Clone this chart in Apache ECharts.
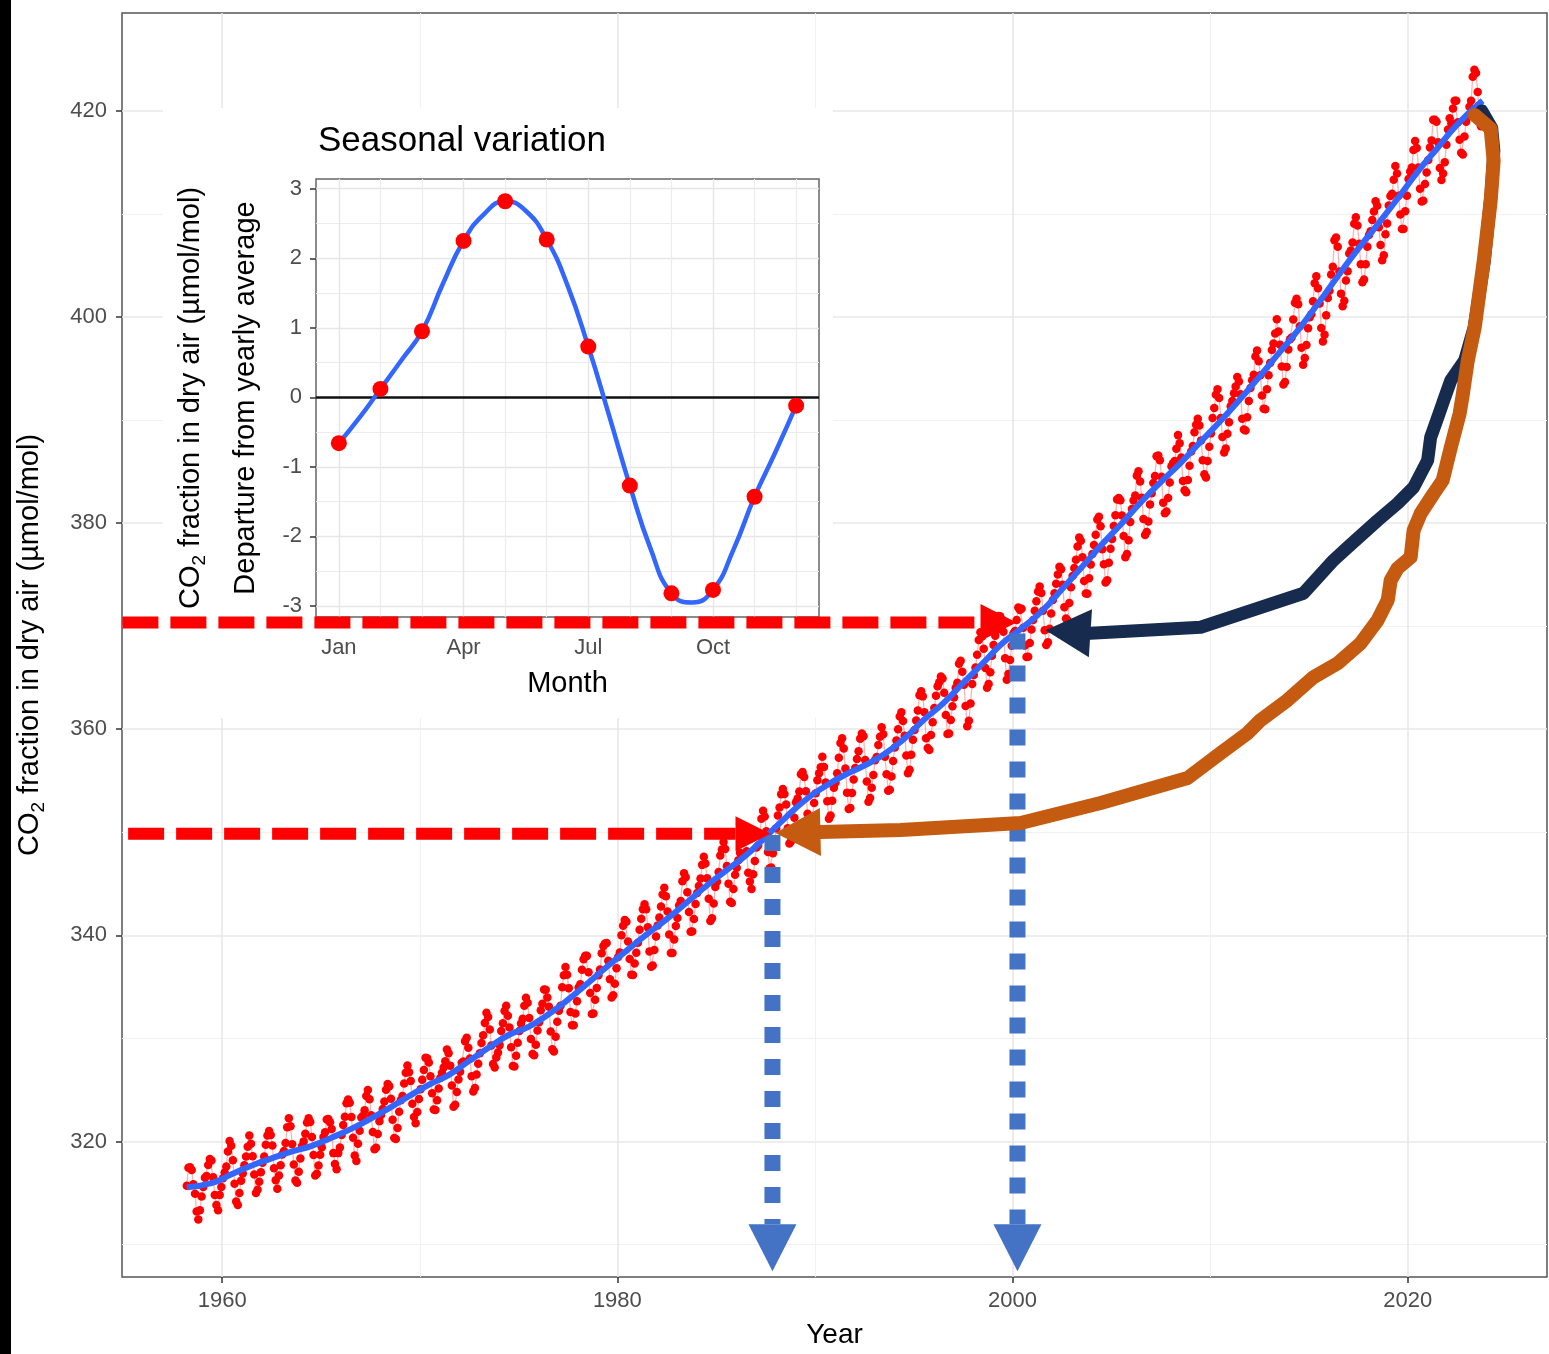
<!DOCTYPE html>
<html><head><meta charset="utf-8">
<script src="https://cdn.jsdelivr.net/npm/echarts@6/dist/echarts.min.js"></script>
<style>html,body{margin:0;padding:0;background:#fff}#c{width:1549px;height:1354px}</style>
</head><body><div id="c"></div>
<script>
// ---------------- DATA ----------------
// Monthly CO2 (µmol/mol), starting March 1958, ending October 2023
const co2StartYear = 1958;
const co2StartMonth = 3;
const co2Monthly = [
/*1958*/ 315.70, 317.45, 317.51, 317.24, 315.86, 314.93, 313.20, 312.43, 313.33, 314.67,
/*1959*/ 315.58, 316.48, 316.65, 317.72, 318.29, 318.15, 316.54, 314.80, 313.84, 313.33, 314.81, 315.58,
/*1960*/ 316.43, 316.98, 317.58, 319.03, 320.04, 319.59, 318.18, 315.90, 314.17, 313.83, 315.00, 316.19,
/*1961*/ 316.89, 317.70, 318.54, 319.48, 320.58, 319.77, 318.57, 316.79, 314.99, 315.31, 316.10, 317.01,
/*1962*/ 317.94, 318.55, 319.68, 320.57, 321.02, 320.62, 319.61, 317.40, 316.25, 315.42, 316.69, 317.70,
/*1963*/ 318.74, 319.07, 319.86, 321.38, 322.25, 321.48, 319.74, 317.77, 316.21, 315.99, 317.07, 318.35,
/*1964*/ 319.57, 320.01, 320.74, 321.84, 322.26, 321.89, 320.44, 318.69, 316.70, 316.87, 317.68, 318.71,
/*1965*/ 319.44, 320.44, 320.89, 322.14, 322.17, 321.87, 321.21, 318.87, 317.81, 317.30, 318.87, 319.42,
/*1966*/ 320.62, 321.60, 322.39, 323.70, 324.08, 323.75, 322.38, 320.36, 318.64, 318.10, 319.78, 321.03,
/*1967*/ 322.33, 322.50, 323.04, 324.42, 325.00, 324.09, 322.54, 320.92, 319.25, 319.39, 320.73, 321.96,
/*1968*/ 322.57, 323.15, 323.89, 325.02, 325.57, 325.36, 324.14, 322.11, 320.33, 320.25, 321.32, 322.89,
/*1969*/ 324.00, 324.42, 325.63, 326.66, 327.38, 326.71, 325.88, 323.66, 322.38, 321.78, 322.86, 324.12,
/*1970*/ 325.06, 325.98, 326.93, 328.13, 328.08, 327.67, 326.34, 324.69, 323.10, 323.06, 324.01, 325.13,
/*1971*/ 326.17, 326.68, 327.17, 327.79, 328.93, 328.57, 327.36, 325.43, 323.36, 323.56, 324.80, 326.01,
/*1972*/ 326.77, 327.63, 327.75, 329.72, 330.07, 329.09, 328.04, 326.32, 324.84, 325.20, 326.50, 327.55,
/*1973*/ 328.55, 329.56, 330.30, 331.50, 332.48, 332.07, 330.87, 329.31, 327.51, 327.18, 328.16, 328.64,
/*1974*/ 329.35, 330.71, 331.48, 332.65, 333.18, 332.20, 331.07, 329.15, 327.33, 327.28, 328.31, 329.58,
/*1975*/ 330.73, 331.46, 331.90, 333.17, 333.94, 333.45, 331.97, 329.95, 328.50, 328.36, 329.38, 330.78,
/*1976*/ 331.56, 332.74, 333.36, 334.74, 334.72, 333.98, 333.08, 330.68, 328.96, 328.72, 330.16, 331.62,
/*1977*/ 332.68, 333.17, 334.96, 336.14, 336.93, 336.17, 334.88, 332.56, 331.29, 331.27, 332.41, 333.60,
/*1978*/ 334.95, 335.25, 336.66, 337.69, 338.03, 338.01, 336.41, 334.41, 332.37, 332.41, 333.75, 334.90,
/*1979*/ 336.14, 336.69, 338.27, 338.96, 339.21, 339.26, 337.54, 335.75, 333.98, 334.19, 335.31, 336.81,
/*1980*/ 337.90, 338.34, 340.01, 340.93, 341.48, 341.33, 339.40, 337.70, 336.19, 336.15, 337.27, 338.32,
/*1981*/ 339.29, 340.55, 341.61, 342.53, 343.03, 342.54, 340.78, 338.44, 336.95, 337.08, 338.58, 339.88,
/*1982*/ 340.96, 341.73, 342.81, 343.97, 344.63, 343.79, 342.32, 340.09, 338.28, 338.29, 339.60, 340.90,
/*1983*/ 341.68, 342.90, 343.33, 345.25, 346.03, 345.63, 344.19, 342.27, 340.35, 340.38, 341.59, 343.05,
/*1984*/ 344.10, 344.79, 345.52, 346.84, 347.63, 346.98, 345.53, 343.55, 341.40, 341.67, 343.10, 344.70,
/*1985*/ 345.21, 346.16, 347.74, 348.34, 349.06, 348.38, 346.72, 345.02, 343.27, 343.13, 344.49, 345.88,
/*1986*/ 346.56, 347.28, 348.01, 349.77, 350.38, 349.93, 348.16, 346.08, 345.22, 344.51, 345.93, 347.22,
/*1987*/ 348.52, 348.73, 349.73, 351.31, 352.09, 351.53, 350.11, 348.08, 346.52, 346.59, 347.96, 349.16,
/*1988*/ 350.39, 351.64, 352.41, 353.69, 354.21, 353.72, 352.69, 350.40, 348.92, 349.13, 350.20, 351.41,
/*1989*/ 352.91, 353.27, 353.96, 355.64, 355.86, 355.37, 353.99, 351.81, 350.05, 350.25, 351.49, 352.85,
/*1990*/ 353.80, 355.04, 355.73, 356.32, 357.32, 356.34, 354.84, 353.01, 351.31, 351.62, 353.07, 354.33,
/*1991*/ 354.84, 355.73, 357.23, 358.66, 359.13, 358.13, 356.19, 353.85, 352.25, 352.35, 353.81, 355.12,
/*1992*/ 356.25, 357.11, 357.86, 359.09, 359.59, 359.33, 357.01, 354.94, 352.96, 353.32, 354.32, 355.57,
/*1993*/ 357.00, 357.31, 358.47, 359.27, 360.19, 359.52, 357.33, 355.64, 354.03, 354.12, 355.41, 356.91,
/*1994*/ 358.24, 358.92, 359.99, 361.23, 361.65, 360.81, 359.38, 357.46, 355.73, 356.07, 357.53, 358.98,
/*1995*/ 359.92, 360.86, 361.83, 363.30, 363.69, 363.19, 361.64, 359.12, 358.17, 357.99, 359.45, 360.68,
/*1996*/ 362.07, 363.24, 364.17, 364.57, 365.13, 364.92, 363.55, 361.38, 359.54, 359.58, 360.89, 362.24,
/*1997*/ 363.09, 364.03, 364.51, 366.35, 366.64, 365.59, 364.31, 362.25, 360.29, 360.82, 362.49, 364.38,
/*1998*/ 365.26, 365.98, 367.24, 368.66, 369.42, 368.99, 367.82, 365.95, 364.02, 364.40, 365.52, 367.13,
/*1999*/ 368.18, 369.07, 369.68, 370.99, 370.96, 370.30, 369.45, 366.90, 364.81, 365.37, 366.72, 368.10,
/*2000*/ 369.29, 369.54, 370.60, 371.82, 371.58, 371.70, 369.86, 368.13, 367.00, 367.03, 368.37, 369.67,
/*2001*/ 370.59, 371.51, 372.43, 373.37, 373.85, 373.21, 371.51, 369.61, 368.18, 368.45, 369.76, 371.24,
/*2002*/ 372.53, 373.20, 374.12, 375.02, 375.76, 375.52, 374.01, 371.85, 370.75, 370.55, 372.25, 373.79,
/*2003*/ 374.88, 375.64, 376.45, 377.73, 378.60, 378.28, 376.70, 374.38, 373.17, 373.15, 374.66, 375.99,
/*2004*/ 377.00, 377.87, 378.88, 380.35, 380.62, 379.69, 377.47, 376.01, 374.25, 374.46, 376.16, 377.51,
/*2005*/ 378.46, 379.73, 380.77, 382.29, 382.45, 382.21, 380.74, 378.74, 376.70, 377.00, 378.35, 380.11,
/*2006*/ 381.38, 382.19, 382.67, 384.61, 385.03, 384.05, 382.46, 380.41, 378.85, 379.13, 380.15, 381.82,
/*2007*/ 382.89, 383.90, 384.58, 386.50, 386.56, 386.10, 384.50, 381.99, 380.96, 381.12, 382.45, 383.95,
/*2008*/ 385.52, 385.82, 386.03, 387.21, 388.54, 387.76, 386.36, 384.09, 383.18, 382.99, 384.19, 385.56,
/*2009*/ 386.94, 387.48, 388.82, 389.55, 390.14, 389.48, 388.03, 386.11, 384.74, 384.43, 386.02, 387.42,
/*2010*/ 388.71, 390.20, 391.17, 392.46, 393.00, 392.15, 390.20, 388.35, 386.85, 387.24, 388.67, 389.79,
/*2011*/ 391.33, 391.86, 392.60, 393.25, 394.19, 393.74, 392.51, 390.13, 389.08, 389.00, 390.28, 391.86,
/*2012*/ 393.12, 393.86, 394.40, 396.18, 396.74, 395.71, 394.36, 392.39, 391.11, 391.05, 392.98, 394.34,
/*2013*/ 395.55, 396.80, 397.43, 398.41, 399.78, 398.60, 397.32, 395.20, 393.45, 393.70, 395.16, 396.84,
/*2014*/ 397.85, 398.01, 399.77, 401.38, 401.78, 401.25, 399.10, 397.03, 395.38, 396.03, 397.28, 398.91,
/*2015*/ 399.98, 400.28, 401.54, 403.28, 403.96, 402.80, 401.31, 398.93, 397.63, 398.29, 400.16, 401.85,
/*2016*/ 402.56, 404.12, 404.87, 407.45, 407.72, 406.83, 404.41, 402.27, 401.05, 401.59, 403.55, 404.45,
/*2017*/ 406.17, 406.46, 407.22, 409.04, 409.69, 408.88, 407.12, 405.13, 403.37, 403.63, 405.12, 406.81,
/*2018*/ 407.96, 408.32, 409.41, 410.24, 411.24, 410.79, 408.71, 406.99, 405.51, 406.00, 408.02, 409.07,
/*2019*/ 410.83, 411.75, 411.97, 413.32, 414.66, 413.92, 411.77, 409.95, 408.54, 408.53, 410.27, 411.76,
/*2020*/ 413.40, 414.11, 414.51, 416.21, 417.07, 416.39, 414.51, 412.45, 411.22, 411.29, 412.90, 414.02,
/*2021*/ 415.24, 416.45, 417.14, 419.13, 419.13, 418.94, 416.96, 414.47, 413.30, 413.93, 415.01, 416.71,
/*2022*/ 418.19, 419.28, 418.81, 420.23, 420.99, 420.99, 418.90, 417.19, 415.95, 415.78, 417.51, 418.95,
/*2023*/ 419.47, 420.41, 420.99, 423.31, 424.00, 423.68, 421.83, 419.68, 418.51, 418.82
];

// Smoothed trend (blue line)
const trendYear = [1958.21, 1959.5, 1960.5, 1961.5, 1962.5, 1963.5, 1964.5, 1965.5, 1966.5, 1967.5, 1968.5, 1969.5,
  1970.5, 1971.5, 1972.5, 1973.5, 1974.5, 1975.5, 1976.5, 1977.5, 1978.5, 1979.5, 1980.5, 1981.5, 1982.5, 1983.5,
  1984.5, 1985.5, 1986.5, 1987.5, 1988.5, 1989.5, 1990.5, 1991.5, 1992.5, 1993.5, 1994.5, 1995.5, 1996.5, 1997.5,
  1998.5, 1999.5, 2000.5, 2001.5, 2002.5, 2003.5, 2004.5, 2005.5, 2006.5, 2007.5, 2008.5, 2009.5, 2010.5, 2011.5,
  2012.5, 2013.5, 2014.5, 2015.5, 2016.5, 2017.5, 2018.5, 2019.5, 2020.5, 2021.5, 2022.5, 2023.79];
const trendCO2 = [315.55, 315.98, 316.84, 317.67, 318.36, 319.02, 319.55, 320.34, 321.20, 322.20, 323.28, 324.45,
  325.54, 326.49, 327.82, 329.11, 330.33, 331.12, 332.33, 333.76, 335.36, 337.00, 338.57, 340.12, 341.58, 343.17,
  344.79, 346.28, 347.76, 349.54, 351.40, 353.11, 354.45, 355.56, 356.48, 357.57, 359.05, 360.89, 362.53, 364.49,
  366.42, 368.36, 369.86, 371.49, 373.58, 375.71, 377.89, 379.92, 382.03, 383.98, 385.83, 387.86, 389.86, 392.00,
  394.22, 396.54, 398.85, 401.41, 404.06, 406.63, 409.04, 411.53, 414.09, 416.38, 418.67, 421.00];

// Inset: seasonal variation
const monthNames = ['Jan','Feb','Mar','Apr','May','Jun','Jul','Aug','Sep','Oct','Nov','Dec'];
const seasonalDeparture = [-0.66, 0.12, 0.95, 2.25, 2.82, 2.27, 0.73, -1.27, -2.82, -2.77, -1.43, -0.12];
const seasonalCurveMonth = [1, 1.5, 2, 2.5, 3, 3.5, 4, 4.5, 5, 5.5, 6, 6.5, 7, 7.5, 8, 8.5, 9, 9.5, 10, 10.5, 11, 11.5, 12];
const seasonalCurveValue = [-0.66, -0.29, 0.12, 0.53, 0.95, 1.63, 2.25, 2.64, 2.82, 2.68, 2.27, 1.61, 0.73, -0.26,
  -1.27, -2.18, -2.82, -2.95, -2.77, -2.18, -1.43, -0.79, -0.12];

// Annotation arrows, in data units [year, ppm]; last point is the arrow tip
const redArrowTo2000 = [[1954.95, 370.37], [2000.2, 370.37]];
const redArrowTo1988 = [[1955.24, 349.85], [1987.75, 349.85]];
const blueArrowAt1988 = [[1987.85, 349.75], [1987.85, 307.4]];
const blueArrowAt2000 = [[2000.25, 369.3], [2000.25, 307.4]];
const navyArrowPath = [[2023.75, 420.00], [2024.25, 418.35], [2024.36, 416.12], [2024.22, 411.96], [2023.88, 405.47],
  [2023.36, 398.97], [2022.88, 395.78], [2022.18, 393.84], [2021.82, 391.90], [2021.52, 390.25], [2021.16, 388.31],
  [2021.01, 386.09], [2020.30, 383.47], [2019.49, 381.92], [2018.48, 380.27], [2016.96, 377.65], [2016.25, 376.40],
  [2014.73, 373.20], [2009.52, 369.90], [2003.95, 369.32], [2001.67, 369.61]];
const orangeArrowPath = [[2023.39, 419.61], [2024.20, 418.26], [2024.35, 415.16], [2024.20, 411.28], [2023.85, 405.47],
  [2023.39, 398.97], [2023.04, 395.78], [2022.78, 392.38], [2022.63, 390.64], [2022.18, 387.34], [2021.77, 384.15],
  [2021.32, 382.89], [2020.66, 380.95], [2020.30, 379.30], [2020.15, 376.69], [2019.49, 375.62], [2019.14, 374.46],
  [2018.99, 372.52], [2018.48, 370.58], [2017.62, 368.35], [2016.46, 366.41], [2015.24, 365.06], [2013.92, 362.83],
  [2012.56, 360.89], [2011.90, 359.63], [2010.53, 357.69], [2008.86, 355.27], [2004.46, 352.85], [2000.41, 350.91],
  [1994.33, 350.23], [1990.28, 350.04], [1988.00, 349.94]];

// ---------------- CHART ----------------
const FONT = '"Liberation Sans", Arial, Helvetica, sans-serif';
const co2Points = co2Monthly.map((v, i) => {
  const m = co2StartMonth - 1 + i;
  return [co2StartYear + Math.floor(m / 12) + ((m % 12) + 0.5) / 12, v];
});
const trendPoints = trendYear.map((y, i) => [y, trendCO2[i]]);
const insetPoints = seasonalDeparture.map((v, i) => [i, v]);          // x = month index (Jan = 0)
const insetCurve = seasonalCurveMonth.map((m, i) => [m - 1, seasonalCurveValue[i]]);

const annotations = [
  {path: blueArrowAt1988, color: '#4472C4', width: 16, dash: [16, 16], headLen: 47, headHalf: 24},
  {path: blueArrowAt2000, color: '#4472C4', width: 16, dash: [16, 16], headLen: 47, headHalf: 24},
  {path: redArrowTo2000, color: '#FF0000', width: 12, dash: [36, 12], headLen: 36, headHalf: 18.5},
  {path: redArrowTo1988, color: '#FF0000', width: 12, dash: [36, 12], headLen: 35, headHalf: 17.5},
  {path: navyArrowPath, color: '#172B4F', width: 13, dash: null, headLen: 45, headHalf: 24},
  {path: orangeArrowPath, color: '#C55A11', width: 14, dash: null, headLen: 45, headHalf: 24}
];

function isMult(v, k) { return Math.abs(v - Math.round(v / k) * k) < 1e-6; }

function renderAnnotation(params, api) {
  const a = annotations[params.dataIndex];
  const pts = a.path.map(p => api.coord(p));
  const tip = pts[pts.length - 1];
  const prev = pts[pts.length - 2];
  const dx = tip[0] - prev[0], dy = tip[1] - prev[1];
  const len = Math.hypot(dx, dy) || 1;
  const ux = dx / len, uy = dy / len;
  const base = [tip[0] - ux * a.headLen, tip[1] - uy * a.headLen];
  const shaft = pts.slice(0, pts.length - 1);
  shaft.push(base);
  const tri = [tip, [base[0] - uy * a.headHalf, base[1] + ux * a.headHalf], [base[0] + uy * a.headHalf, base[1] - ux * a.headHalf]];
  return {
    type: 'group',
    children: [
      {type: 'polyline', shape: {points: shaft},
       style: {stroke: a.color, lineWidth: a.width, lineDash: a.dash, fill: 'none',
               lineCap: a.dash ? 'butt' : 'round', lineJoin: 'round'}},
      {type: 'polygon', shape: {points: tri}, style: {fill: a.color, stroke: 'none'}}
    ]
  };
}

const subStyle = {fontSize: 19, fontFamily: FONT, color: '#000', padding: [18, 0, 0, 0]};
function tickStyle() { return {show: true, length: 6, lineStyle: {color: '#333', width: 1.5}}; }

const chart = echarts.init(document.getElementById('c'), null, {renderer: 'canvas'});
chart.setOption({
  animation: false,
  backgroundColor: '#fff',
  textStyle: {fontFamily: FONT},
  title: {
    text: 'Seasonal variation', left: 318, top: 124, padding: 0,
    textStyle: {fontSize: 35, fontWeight: 'normal', color: '#000', fontFamily: FONT}
  },
  graphic: [
    {type: 'rect', shape: {x: 163, y: 108, width: 670, height: 610}, style: {fill: '#fff'}, z: 1, silent: true},
    {type: 'rect', shape: {x: 0, y: 0, width: 11, height: 1354}, style: {fill: '#000'}, z: 20, silent: true}
  ],
  grid: [
    {left: 122, top: 13, width: 1425, height: 1264, show: true, borderColor: '#555', borderWidth: 1.5,
     backgroundColor: 'transparent', outerBoundsMode: 'none'},
    {left: 316, top: 179, width: 503, height: 438, show: true, borderColor: '#666', borderWidth: 1.5,
     backgroundColor: 'transparent', z: 3, outerBoundsMode: 'none'}
  ],
  xAxis: [
    {
      type: 'value', gridIndex: 0, min: 1954.93, max: 2027.05, splitNumber: 3,
      axisLine: {show: false, onZero: false},
      axisTick: tickStyle(),
      axisLabel: {color: '#4d4d4d', fontSize: 22, fontFamily: FONT, margin: 13, showMinLabel: false, showMaxLabel: false,
                  formatter: v => isMult(v, 20) ? String(Math.round(v)) : ''},
      splitLine: {show: true, showMinLine: false, showMaxLine: false, lineStyle: {color: '#e8e8e8', width: 1.6}},
      minorTick: {show: false, splitNumber: 2},
      minorSplitLine: {show: true, lineStyle: {color: '#f1f1f1', width: 1}},
      name: 'Year', nameLocation: 'middle', nameGap: 44,
      nameTextStyle: {fontSize: 28, color: '#000', fontFamily: FONT}
    },
    {
      type: 'value', gridIndex: 1, min: -0.55, max: 11.55, splitNumber: 4, z: 3,
      axisLine: {show: false, onZero: false},
      axisTick: tickStyle(),
      axisLabel: {color: '#4d4d4d', fontSize: 22, fontFamily: FONT, margin: 20, showMinLabel: false, showMaxLabel: false,
                  formatter: v => (isMult(v, 1) && v >= 0 && v <= 11) ? monthNames[Math.round(v)] : ''},
      splitLine: {show: true, showMinLine: false, showMaxLine: false, lineStyle: {color: '#e6e6e6', width: 1.4}},
      minorTick: {show: false, splitNumber: 3},
      minorSplitLine: {show: true, lineStyle: {color: '#ececec', width: 1.2}},
      name: 'Month', nameLocation: 'middle', nameGap: 52,
      nameTextStyle: {fontSize: 29, color: '#000', fontFamily: FONT}
    }
  ],
  yAxis: [
    {
      type: 'value', gridIndex: 0, min: 306.85, max: 429.5, splitNumber: 5,
      axisLine: {show: false, onZero: false},
      axisTick: tickStyle(),
      axisLabel: {color: '#4d4d4d', fontSize: 22, fontFamily: FONT, margin: 15, showMinLabel: false, showMaxLabel: false,
                  formatter: v => isMult(v, 20) ? String(Math.round(v)) : ''},
      splitLine: {show: true, showMinLine: false, showMaxLine: false, lineStyle: {color: '#e8e8e8', width: 1.6}},
      minorTick: {show: false, splitNumber: 2},
      minorSplitLine: {show: true, lineStyle: {color: '#f1f1f1', width: 1}},
      name: 'CO{sub|2} fraction in dry air (µmol/mol)', nameLocation: 'middle', nameGap: 74, nameRotate: 90,
      nameTextStyle: {fontSize: 29, color: '#000', fontFamily: FONT, rich: {sub: subStyle}}
    },
    {
      type: 'value', gridIndex: 1, min: -3.16, max: 3.14, splitNumber: 6, z: 3,
      axisLine: {show: false, onZero: false},
      axisTick: tickStyle(),
      axisLabel: {color: '#4d4d4d', fontSize: 22, fontFamily: FONT, margin: 14, showMinLabel: false, showMaxLabel: false,
                  formatter: v => isMult(v, 1) ? String(Math.round(v)) : ''},
      splitLine: {show: true, showMinLine: false, showMaxLine: false, lineStyle: {color: '#e6e6e6', width: 1.4}},
      minorTick: {show: false, splitNumber: 2},
      minorSplitLine: {show: true, lineStyle: {color: '#ececec', width: 1.2}},
      name: 'CO{sub|2} fraction in dry air (µmol/mol)\nDeparture from yearly average',
      nameLocation: 'middle', nameGap: 43, nameRotate: 90,
      nameTextStyle: {fontSize: 29, lineHeight: 55, color: '#000', fontFamily: FONT, rich: {sub: subStyle}}
    }
  ],
  series: [
    {
      name: 'Monthly CO2', type: 'line', xAxisIndex: 0, yAxisIndex: 0, data: co2Points,
      symbol: 'circle', symbolSize: 8.5, showSymbol: true, silent: true, z: 2,
      itemStyle: {color: '#ff0000'},
      lineStyle: {color: 'rgba(255,0,0,0.3)', width: 1.3}
    },
    {
      name: 'Trend', type: 'line', xAxisIndex: 0, yAxisIndex: 0, data: trendPoints,
      smooth: true, showSymbol: false, silent: true, z: 3,
      lineStyle: {color: '#3366ff', width: 6}
    },
    {
      name: 'Seasonal curve', type: 'line', xAxisIndex: 1, yAxisIndex: 1, data: insetCurve,
      smooth: true, showSymbol: false, silent: true, z: 5,
      lineStyle: {color: '#3366ff', width: 4.5},
      markLine: {silent: true, symbol: ['none', 'none'], label: {show: false},
                 lineStyle: {color: '#111', width: 2.5, type: 'solid'}, data: [{yAxis: 0}]}
    },
    {
      name: 'Monthly departure', type: 'scatter', xAxisIndex: 1, yAxisIndex: 1, data: insetPoints,
      symbol: 'circle', symbolSize: 16, silent: true, z: 6,
      itemStyle: {color: '#ff0000', opacity: 1}
    },
    {
      name: 'Annotations', type: 'custom', xAxisIndex: 0, yAxisIndex: 0, z: 10, silent: true,
      renderItem: renderAnnotation,
      encode: {x: 0, y: 1},
      data: annotations.map(a => a.path[0])
    }
  ]
});
</script></body></html>
